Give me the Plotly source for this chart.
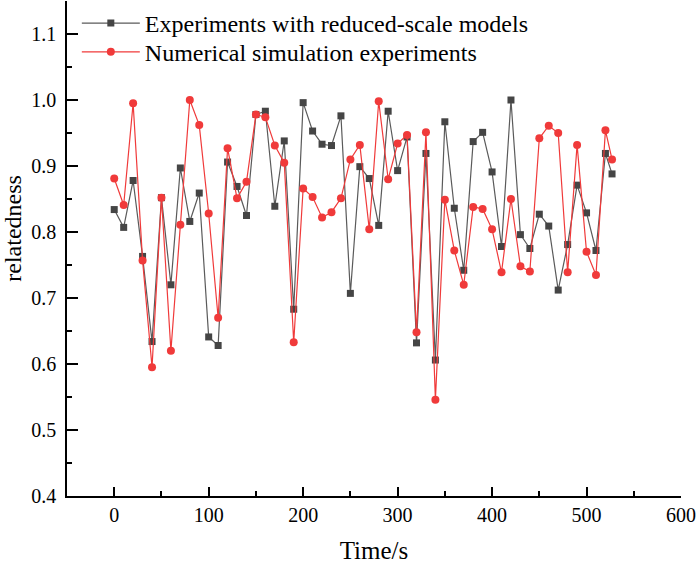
import plotly.graph_objects as go

time_s = [0, 10, 20, 30, 40, 50, 60, 70, 80, 90, 100, 110, 120, 130, 140, 150, 160, 170, 180, 190,
          200, 210, 220, 230, 240, 250, 260, 270, 280, 290, 300, 310, 320, 330, 340, 350, 360, 370,
          380, 390, 400, 410, 420, 430, 440, 450, 460, 470, 480, 490, 500, 510, 520, 527]

reduced_scale = [0.834, 0.807, 0.878, 0.763, 0.634, 0.852, 0.720, 0.897, 0.816, 0.859,
                 0.641, 0.628, 0.906, 0.869, 0.825, 0.978, 0.983, 0.839, 0.938, 0.683,
                 0.996, 0.953, 0.933, 0.931, 0.976, 0.707, 0.899, 0.881, 0.810, 0.983,
                 0.893, 0.944, 0.632, 0.919, 0.606, 0.967, 0.836, 0.742, 0.937, 0.951,
                 0.891, 0.778, 1.000, 0.796, 0.775, 0.827, 0.809, 0.712, 0.781, 0.871,
                 0.829, 0.772, 0.919, 0.888]

numerical = [0.881, 0.841, 0.995, 0.757, 0.595, 0.852, 0.620, 0.811, 1.000, 0.962,
             0.828, 0.670, 0.927, 0.851, 0.876, 0.978, 0.974, 0.931, 0.905, 0.633,
             0.866, 0.853, 0.822, 0.830, 0.851, 0.910, 0.932, 0.804, 0.998, 0.880,
             0.934, 0.947, 0.648, 0.951, 0.546, 0.849, 0.772, 0.720, 0.838, 0.835,
             0.804, 0.739, 0.850, 0.748, 0.740, 0.942, 0.961, 0.950, 0.739, 0.932,
             0.770, 0.735, 0.954, 0.910]

font = "Liberation Serif, Times New Roman, serif"

fig = go.Figure()
fig.add_trace(go.Scatter(
    x=time_s, y=reduced_scale, mode="lines+markers",
    name="Experiments with reduced-scale models",
    line=dict(color="#5a5a5a", width=1.2),
    marker=dict(symbol="square", size=7, color="#454545"),
    legend="legend",
))
fig.add_trace(go.Scatter(
    x=time_s, y=numerical, mode="lines+markers",
    name="Numerical simulation experiments",
    line=dict(color="#f03a3a", width=1.2),
    marker=dict(symbol="circle", size=8, color="#f03a3a"),
    legend="legend2",
))

axis_common = dict(
    showline=True, linecolor="black", linewidth=1.5, mirror=False,
    showgrid=False, zeroline=False,
    ticks="inside", tickwidth=1.5, tickcolor="black",
    tickfont=dict(family=font, size=20, color="black"),
)

legend_common = dict(xanchor="left", yanchor="top",
                     font=dict(family=font, size=24, color="black"),
                     bgcolor="rgba(0,0,0,0)", itemwidth=58)

fig.update_layout(
    width=697, height=564,
    margin=dict(l=67, r=16, t=1, b=68),
    paper_bgcolor="white", plot_bgcolor="white",
    font=dict(family=font, color="black"),
    showlegend=True,
    legend=dict(x=0.016, y=1.0, **legend_common),
    legend2=dict(x=0.016, y=0.942, **legend_common),
    xaxis=dict(range=[-50, 600], tick0=0, dtick=100, ticklen=9,
               minor=dict(dtick=50, tick0=0, ticks="inside", ticklen=5, tickwidth=1.5, tickcolor="black"),
               title=dict(text="Time/s", font=dict(family=font, size=25), standoff=17),
               **axis_common),
    yaxis=dict(range=[0.4, 1.15], tick0=0.4, dtick=0.1, tickformat=".1f", ticklen=11,
               ticklabelstandoff=5,
               minor=dict(dtick=0.05, tick0=0.4, ticks="inside", ticklen=5, tickwidth=1.5, tickcolor="black"),
               **axis_common),
    annotations=[dict(text="relatedness", textangle=-90, xref="paper", yref="y",
                      x=0, y=0.805, xshift=-54, xanchor="center", yanchor="middle",
                      showarrow=False,
                      font=dict(family=font, size=24, color="black"))],
)

fig.write_html("out.html")
